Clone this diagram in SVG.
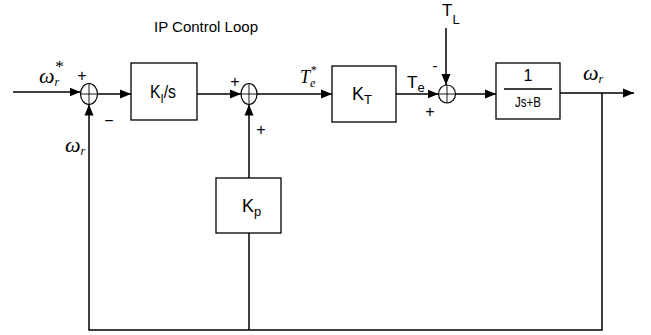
<svg xmlns="http://www.w3.org/2000/svg" width="651" height="335" viewBox="0 0 651 335">
<style>
.ln{fill:none;stroke:#000;stroke-width:1.5}
.arr{fill:none;stroke:#000;stroke-width:1.5;marker-end:url(#ah)}
.box{fill:#fff;stroke:#000;stroke-width:1.3}
.sum{fill:#fff;stroke:#000;stroke-width:1.2}
.cr{stroke:#000;stroke-width:0.9}
.t{font-family:"Liberation Sans",Arial,sans-serif;fill:#000}
.s{font-family:"Liberation Serif","Times New Roman",serif;font-style:italic;fill:#000}
</style>
<defs>
<marker id="ah" markerUnits="userSpaceOnUse" markerWidth="12" markerHeight="10" refX="11" refY="5" orient="auto">
<path d="M0,0.5 L11,5 L0,9.5 Z" fill="#000"/>
</marker>
</defs>
<rect width="651" height="335" fill="#fff"/>
<text class="t" x="154" y="32" font-size="14" textLength="104" lengthAdjust="spacingAndGlyphs">IP Control Loop</text>
<g id="connectors">
<line class="arr" x1="13" y1="92" x2="80.5" y2="92"/>
<line class="arr" x1="97.5" y1="94" x2="131" y2="94"/>
<line class="arr" x1="197" y1="94" x2="241" y2="94"/>
<line class="arr" x1="257" y1="94" x2="332" y2="94"/>
<line class="arr" x1="396" y1="94" x2="438.5" y2="94"/>
<line class="arr" x1="455.5" y1="94" x2="496" y2="94"/>
<line class="arr" x1="560" y1="93" x2="634" y2="93"/>
<line class="arr" x1="446" y1="28" x2="446" y2="85"/>
<polyline class="arr" points="602,93 602,330 89,330 89,104.5"/>
<line class="ln" x1="249" y1="233" x2="249" y2="330"/>
<line class="arr" x1="249" y1="178" x2="249" y2="104.5"/>
</g>
<g id="sum1">
<ellipse class="sum" cx="89" cy="94" rx="8.5" ry="10.5"/>
<line class="cr" x1="80.5" y1="94" x2="97.5" y2="94"/>
<line class="cr" x1="89" y1="83.5" x2="89" y2="104.5"/>
<text class="t" x="82" y="81" font-size="16" text-anchor="middle">+</text>
<text class="t" x="109" y="126" font-size="16" text-anchor="middle">−</text>
</g>
<g id="ki">
<rect class="box" x="131" y="63" width="66" height="57"/>
<text class="t" x="150" y="98" font-size="18" textLength="26" lengthAdjust="spacingAndGlyphs">K<tspan font-size="13" dy="5">I</tspan><tspan dy="-5">/s</tspan></text>
</g>
<g id="sum2">
<ellipse class="sum" cx="249" cy="94" rx="8" ry="10.5"/>
<line class="cr" x1="241" y1="94" x2="257" y2="94"/>
<line class="cr" x1="249" y1="83.5" x2="249" y2="104.5"/>
<text class="t" x="235" y="87" font-size="16" text-anchor="middle">+</text>
<text class="t" x="261" y="135" font-size="16" text-anchor="middle">+</text>
</g>
<g id="te_star">
<text class="s" x="300" y="83" font-size="18">T<tspan font-size="12" dy="4">e</tspan><tspan font-size="12" dx="-5" dy="-13">*</tspan></text>
</g>
<g id="kt">
<rect class="box" x="332" y="66" width="64" height="56"/>
<text class="t" x="352" y="100" font-size="18">K<tspan font-size="13" dy="4">T</tspan></text>
</g>
<g id="te">
<text class="t" x="407" y="88" font-size="17">T<tspan font-size="13" dy="4">e</tspan></text>
</g>
<g id="tl">
<text class="t" x="442" y="16" font-size="17">T<tspan font-size="13" dy="8">L</tspan></text>
</g>
<g id="sum3">
<ellipse class="sum" cx="447" cy="94" rx="8.5" ry="9"/>
<line class="cr" x1="438.5" y1="94" x2="455.5" y2="94"/>
<line class="cr" x1="447" y1="85" x2="447" y2="103"/>
<text class="t" x="435" y="71" font-size="16" text-anchor="middle">-</text>
<text class="t" x="430" y="117" font-size="16" text-anchor="middle">+</text>
</g>
<g id="plant">
<rect class="box" x="496" y="63" width="64" height="56"/>
<text class="t" x="528" y="81" font-size="16" text-anchor="middle">1</text>
<line class="ln" x1="504" y1="89" x2="552" y2="89" stroke-width="1.2"/>
<text class="t" x="528" y="107" font-size="14" text-anchor="middle" textLength="26" lengthAdjust="spacingAndGlyphs">Js+B</text>
</g>
<g id="omega_out">
<text class="s" x="583" y="80" font-size="22">ω<tspan font-size="12" dy="3">r</tspan></text>
</g>
<g id="omega_ref">
<text class="s" x="39" y="83" font-size="22">ω<tspan font-size="12" dy="3">r</tspan><tspan font-size="17" font-style="normal" dx="-4" dy="-14">*</tspan></text>
</g>
<g id="omega_fb">
<text class="s" x="65" y="152" font-size="22">ω<tspan font-size="12" dy="3">r</tspan></text>
</g>
<g id="kp">
<rect class="box" x="216" y="178" width="65" height="55"/>
<text class="t" x="242" y="212" font-size="18">K<tspan font-size="13" dy="4">p</tspan></text>
</g>
</svg>
